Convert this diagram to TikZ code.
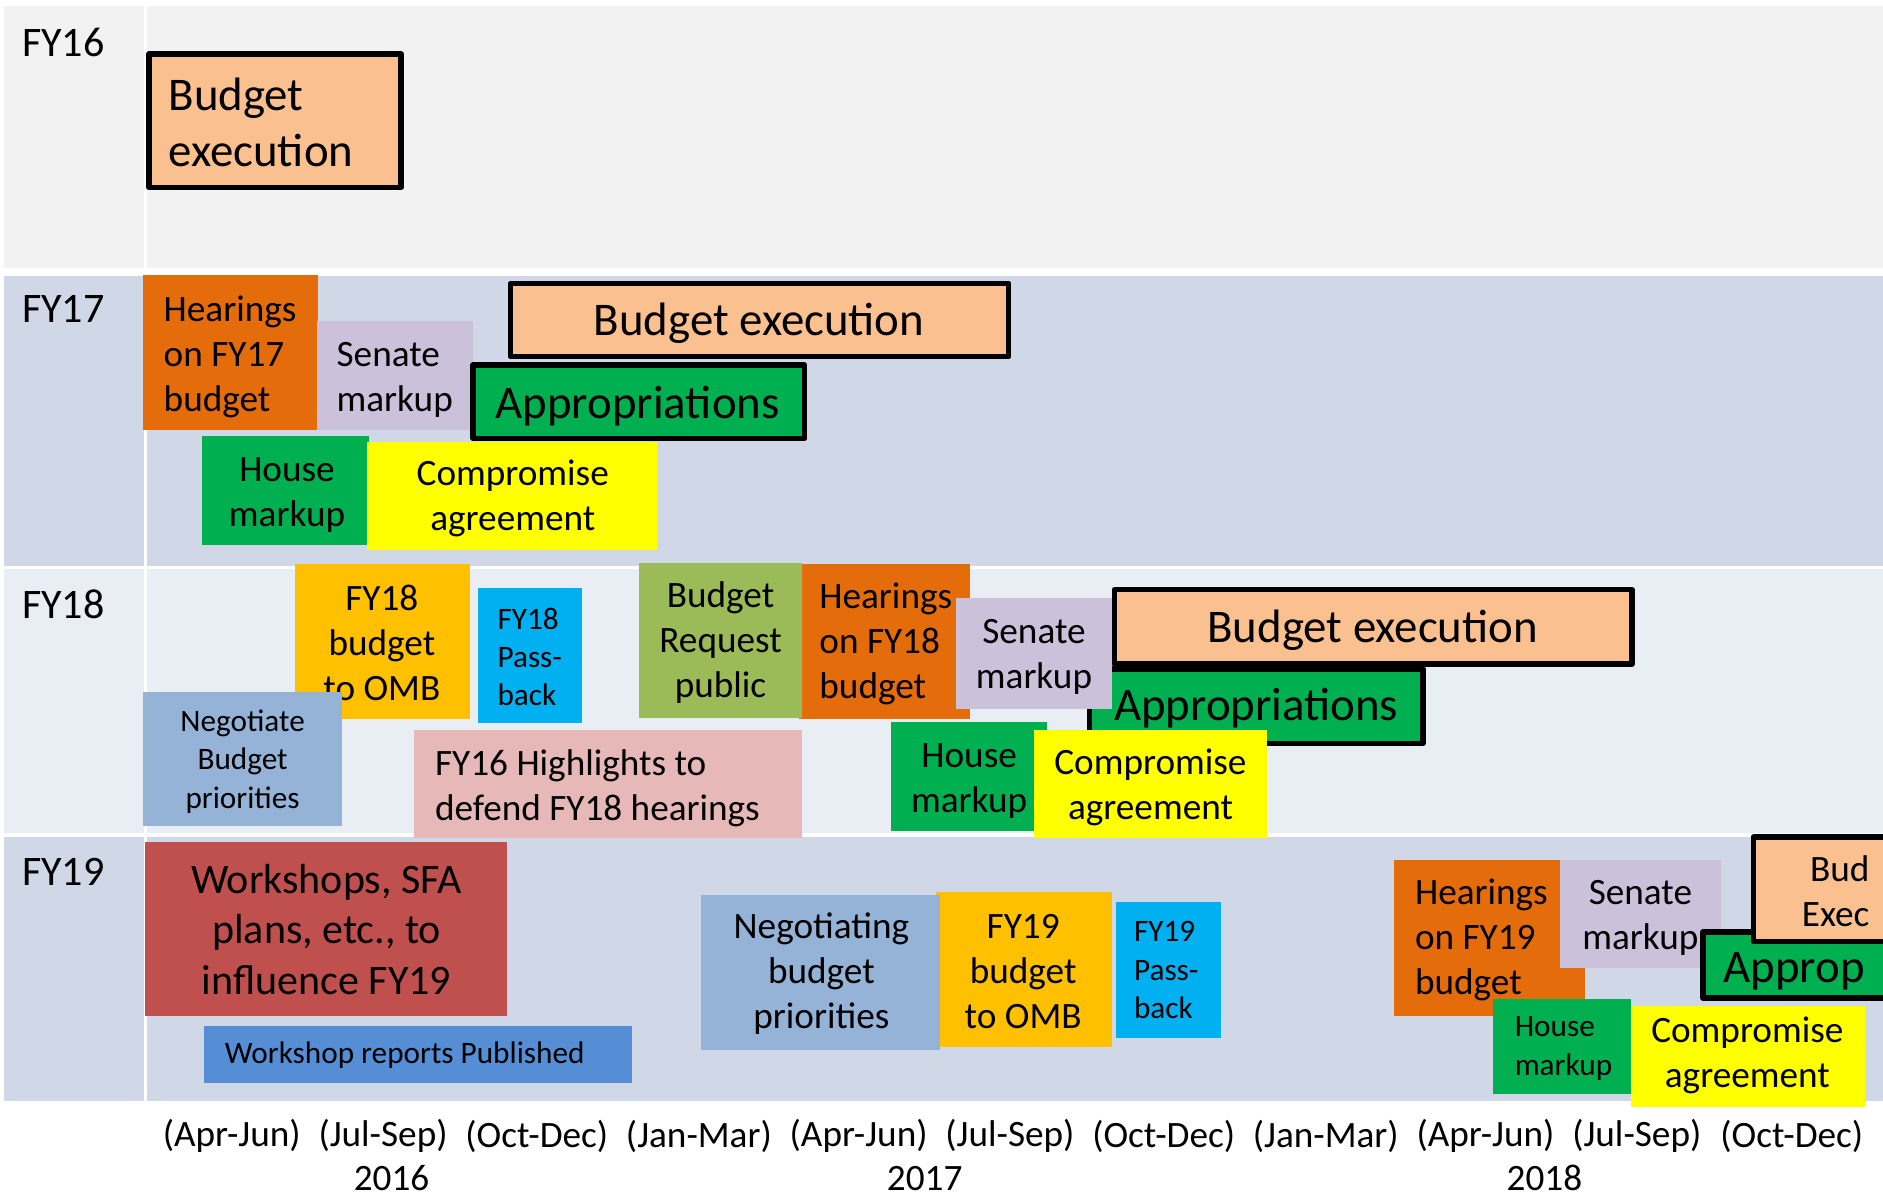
\documentclass[tikz,border=0pt]{standalone}
\usepackage{fontspec}
\setmainfont{Carlito}
\definecolor{rowGray}{HTML}{F2F2F2}
\definecolor{rowDark}{HTML}{D0D8E8}
\definecolor{rowLight}{HTML}{E9EDF4}
\definecolor{cPeach}{HTML}{FAC090}
\definecolor{cOrange}{HTML}{E46C0A}
\definecolor{cLavender}{HTML}{CCC1DA}
\definecolor{cGreen}{HTML}{00B050}
\definecolor{cYellow}{HTML}{FFFF00}
\definecolor{cGold}{HTML}{FFC000}
\definecolor{cCyan}{HTML}{00B0F0}
\definecolor{cSky}{HTML}{95B3D7}
\definecolor{cOlive}{HTML}{9BBB59}
\definecolor{cRose}{HTML}{E6B9B8}
\definecolor{cBrick}{HTML}{C0504D}
\definecolor{cBlue}{HTML}{558ED5}
\begin{document}
\begin{tikzpicture}[x=0.6pt,y=-0.6pt,
  big/.style={inner sep=0pt,font=\fontsize{23.4}{28.2}\selectfont},
  mid/.style={inner sep=0pt,font=\fontsize{18.6}{22.5}\selectfont},
  sml/.style={inner sep=0pt,font=\fontsize{15.6}{19.2}\selectfont},
  lbl/.style={inner sep=0pt,font=\fontsize{21}{25.2}\selectfont},
  heavy/.style={draw=black,line width=2.7pt,line join=round}]
\useasboundingbox (0,0) rectangle (1568,996);
\clip (0,0) rectangle (1568,996);
\fill[white] (0,0) rectangle (1568,996);
% rows of the table
\fill[rowGray] (3,5) rectangle (1568,223);
\fill[rowDark] (3,230) rectangle (1568,471);
\fill[rowLight] (3,474) rectangle (1568,694);
\fill[rowDark] (3,697) rectangle (1568,917);
\draw[white,line width=1.5pt] (121,5) -- (121,917);
\node[lbl,anchor=west] (fy16) at (18,35) {FY16};
\node[lbl,anchor=west] (fy17) at (18,257) {FY17};
\node[lbl,anchor=west] (fy18) at (18,503) {FY18};
\node[lbl,anchor=west] (fy19) at (18,726) {FY19};
% FY16
\filldraw[heavy,fill=cPeach] (124,45) rectangle (334,156);
\node[big,anchor=west,align=left] (exec16) at (140,102) {Budget\\execution};
% FY17
\fill[cOrange] (119,229) rectangle (265,358);
\node[mid,anchor=west,align=left] (hear17) at (136,297) {Hearings\\on FY17\\budget};
\fill[cLavender] (264,267) rectangle (394,358);
\node[mid,anchor=west,align=left] (sen17) at (280,316) {Senate\\markup};
\filldraw[heavy,fill=cPeach] (425,236) rectangle (840,297);
\node[big] (exec17) at (632,269) {Budget execution};
\filldraw[heavy,fill=cGreen] (394,304) rectangle (670,365);
\node[big] (appr17) at (531,338) {Appropriations};
\fill[cGreen] (168,363) rectangle (307,454);
\node[mid,align=center] (house17) at (239,412) {House\\markup};
\fill[cYellow] (306,368) rectangle (547,458);
\node[mid,align=center] (comp17) at (427,415) {Compromise\\agreement};
% FY18
\fill[cGold] (246,470) rectangle (391,599);
\node[mid,align=center] (omb18) at (318,535) {FY18\\budget\\to OMB};
\fill[cCyan] (398,490) rectangle (485,602);
\node[sml,anchor=west,align=left] (pass18) at (414,547) {FY18\\Pass-\\back};
\fill[cSky] (119,576) rectangle (285,688);
\node[sml,align=center] (nego18) at (202,634) {Negotiate\\Budget\\priorities};
\fill[cOrange] (665,470) rectangle (808,599);
\node[mid,anchor=west,align=left] (hear18) at (682,536) {Hearings\\on FY18\\budget};
\fill[cOlive] (532,469) rectangle (668,598);
\node[mid,align=center] (req18) at (600,535) {Budget\\Request\\public};
\fill[cRose] (345,608) rectangle (668,698);
\node[mid,anchor=west,align=left] (high18) at (362,656) {FY16 Highlights to\\defend FY18 hearings};
\filldraw[heavy,fill=cPeach] (928,491) rectangle (1359,553);
\node[big] (exec18) at (1143,525) {Budget execution};
\filldraw[heavy,fill=cGreen] (907,557) rectangle (1185,619);
\node[big] (appr18) at (1046,590) {Appropriations};
\fill[cLavender] (796,498) rectangle (926,590);
\node[mid,align=center] (sen18) at (861,547) {Senate\\markup};
\fill[cGreen] (742,601) rectangle (872,692);
\node[mid,align=center] (house18) at (807,650) {House\\markup};
\fill[cYellow] (861,608) rectangle (1055,698);
\node[mid,align=center] (comp18) at (958,656) {Compromise\\agreement};
% FY19
\fill[cBrick] (121,701) rectangle (422,846);
\node[lbl,align=center] (work19) at (272,774) {Workshops, SFA\\plans, etc., to\\influence FY19};
\fill[cBlue] (170,854) rectangle (526,902);
\node[sml,anchor=west] (pub19) at (187,879) {Workshop reports Published};
\fill[cGold] (779,743) rectangle (926,872);
\node[mid,align=center] (omb19) at (852,809) {FY19\\budget\\to OMB};
\fill[cSky] (584,745) rectangle (783,874);
\node[mid,align=center] (nego19) at (684,811) {Negotiating\\budget\\priorities};
\fill[cCyan] (929,751) rectangle (1017,864);
\node[sml,anchor=west,align=left] (pass19) at (944,808) {FY19\\Pass-\\back};
\fill[cOrange] (1161,716) rectangle (1320,846);
\node[mid,anchor=west,align=left] (hear19) at (1178,783) {Hearings\\on FY19\\budget};
\fill[cLavender] (1299,716) rectangle (1433,806);
\node[mid,align=center] (sen19) at (1366,764) {Senate\\markup};
\filldraw[heavy,fill=cGreen] (1418,776) rectangle (1590,831);
\node[big] (appr19) at (1494,809) {Approp};
\filldraw[heavy,fill=cPeach] (1460,697) rectangle (1590,784);
\node[mid,anchor=east,align=right] (exec19) at (1557,742) {Bud\\Exec};
\fill[cGreen] (1243,832) rectangle (1358,911);
\node[sml,anchor=west,align=left] (house19) at (1261,873) {House\\markup};
\fill[cYellow] (1358,838) rectangle (1553,922);
\node[mid,align=center] (comp19) at (1455,879) {Compromise\\agreement};
% quarters and years
\node[mid] (q1) at (193,946) {(Apr-Jun)};
\node[mid] (q2) at (319,946) {(Jul-Sep)};
\node[mid] (q3) at (447,946) {(Oct-Dec)};
\node[mid] (q4) at (582,946) {(Jan-Mar)};
\node[mid] (q5) at (715,946) {(Apr-Jun)};
\node[mid] (q6) at (841,946) {(Jul-Sep)};
\node[mid] (q7) at (969,946) {(Oct-Dec)};
\node[mid] (q8) at (1104,946) {(Jan-Mar)};
\node[mid] (q9) at (1237,946) {(Apr-Jun)};
\node[mid] (q10) at (1363,946) {(Jul-Sep)};
\node[mid] (q11) at (1492,946) {(Oct-Dec)};
\node[mid] (y16) at (326,981) {2016};
\node[mid] (y17) at (770,981) {2017};
\node[mid] (y18) at (1286,981) {2018};
\end{tikzpicture}
\end{document}
